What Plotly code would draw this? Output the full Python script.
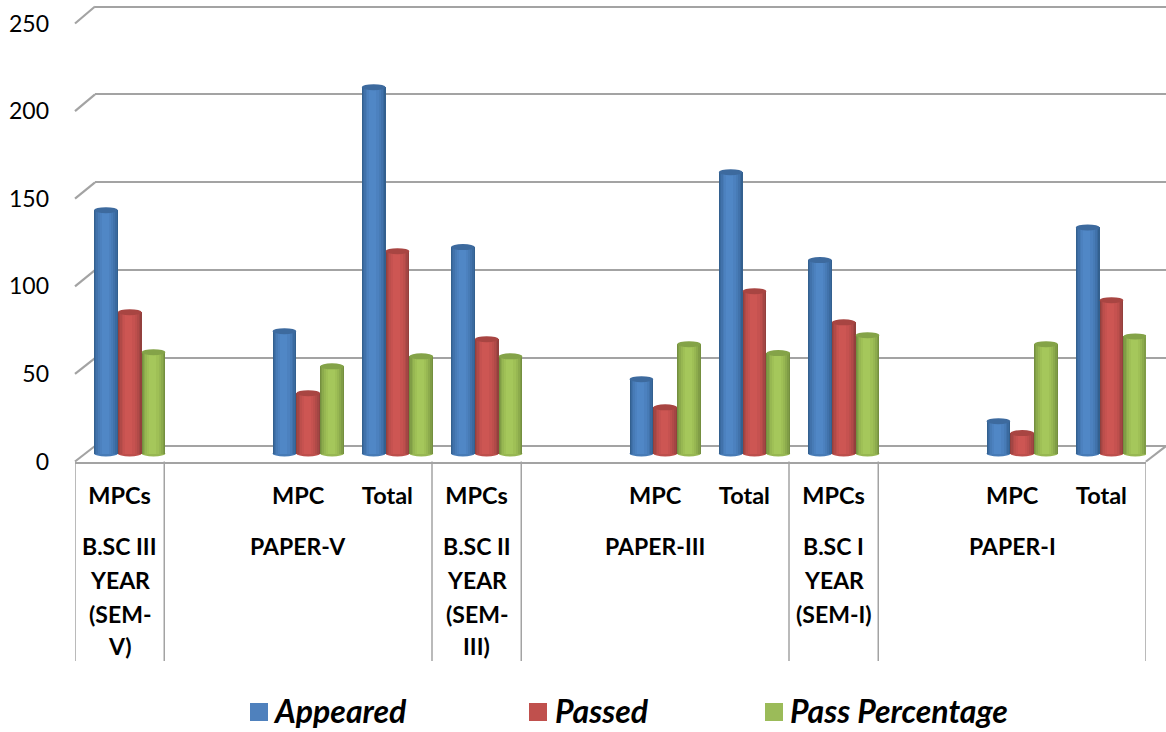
import plotly.graph_objects as go

categories = ["MPCs", "", "MPC", "Total", "MPCs", "", "MPC", "Total", "MPCs", "", "MPC", "Total"]
appeared = [138.4, None, 69.6, 208.4, 117.4, None, 42.3, 160, 110, None, 18.4, 128.6]
passed = [80.4, None, 34.3, 115.1, 65, None, 26.3, 92.3, 74.6, None, 11.6, 87.2]
pass_percentage = [57.6, None, 49.6, 55.3, 55.3, None, 62.2, 57.1, 67.3, None, 62.2, 66.6]
group_labels = [
    (0, ["B.SC III", "YEAR", "(SEM-", "V)"]),
    (2, ["PAPER-V"]),
    (4, ["B.SC II", "YEAR", "(SEM-", "III)"]),
    (6, ["PAPER-III"]),
    (8, ["B.SC I", "YEAR", "(SEM-I)"]),
    (10, ["PAPER-I"]),
]
separators = [-0.5, 0.5, 3.5, 4.5, 7.5, 8.5, 11.5]
y_ticks = [0, 50, 100, 150, 200, 250]

W, H = 1166, 732
FONT = "Lato"
GRID = "#a3a3a3"
fx = lambda p: p / W
fy = lambda p: 1 - p / H

series = [
    ("Appeared", appeared, "#4f81bd", "#3d6a9e",
     ["#33608f", "#3a6a9f", "#4172ab", "#477bb6", "#4c81bf", "#5087c6"], 250, 271),
    ("Passed", passed, "#c0504d", "#a84542",
     ["#93403d", "#a34644", "#b14a48", "#bd4f4c", "#c65250", "#cd5653"], 529, 553),
    ("Pass Percentage", pass_percentage, "#9bbb59", "#84a348",
     ["#748f3f", "#809d46", "#8cab4c", "#97b752", "#9fc056", "#a5c75b"], 765, 788),
]
BAR_W = 0.2667
FIRST_LEFT = -0.287
FRACS = [1.0, 0.9, 0.78, 0.64, 0.48, 0.3]
PX_PER_UNIT = 1.758

fig = go.Figure()
shapes = []
annotations = []
xs = list(range(len(categories)))

# invisible carriers so the back-wall grid and the front value axis are drawn
fig.add_trace(go.Scatter(x=[0], y=[0], xaxis="x", yaxis="y", mode="markers",
                         marker=dict(opacity=0), showlegend=False, hoverinfo="skip"))
fig.add_trace(go.Scatter(x=[0], y=[0], xaxis="x2", yaxis="y3", mode="markers",
                         marker=dict(opacity=0), showlegend=False, hoverinfo="skip"))

for k, (name, vals, base, cap, shades, swatch_x, text_x) in enumerate(series):
    left = FIRST_LEFT + k * BAR_W
    for frac, col in zip(FRACS, shades):
        fig.add_trace(go.Bar(
            x=xs, y=vals, xaxis="x2", yaxis="y2", name=name,
            width=BAR_W * frac,
            offset=left + BAR_W * 0.45 * (1 - frac),
            marker=dict(color=col, line=dict(width=0)),
            showlegend=False, hoverinfo="skip" if frac != 1.0 else None,
        ))
    ry = 3 / PX_PER_UNIT
    for x, v in zip(xs, vals):
        if v is None:
            continue
        # rounded bottom and darker cap of the cylinder
        shapes.append(dict(type="circle", xref="x2", yref="y2", layer="below",
                           x0=x + left, x1=x + left + BAR_W, y0=-ry, y1=ry,
                           fillcolor=shades[3], line=dict(width=0)))
        shapes.append(dict(type="circle", xref="x2", yref="y2", layer="above",
                           x0=x + left, x1=x + left + BAR_W, y0=v - ry, y1=v + ry,
                           fillcolor=cap, line=dict(width=0)))
    # legend row: native swatches are capped below the reference's 18 px squares
    shapes.append(dict(type="rect", xref="paper", yref="paper",
                       x0=fx(swatch_x), x1=fx(swatch_x + 18), y0=fy(721), y1=fy(703),
                       fillcolor=base, line=dict(width=0)))
    annotations.append(dict(x=fx(text_x), y=fy(710), xref="paper", yref="paper", text=name,
                            showarrow=False, xanchor="left", yanchor="middle",
                            font=dict(family=FONT, size=32, color="#000000",
                                      weight="bold", style="italic")))

# side stubs of the 3-D walls
for t in y_ticks:
    back = 446 - t * 1.758
    front = 461.5 - t * 1.752
    shapes.append(dict(type="line", xref="paper", yref="paper", layer="below",
                       x0=fx(75), x1=fx(95), y0=fy(front), y1=fy(back),
                       line=dict(color=GRID, width=2.2)))
shapes.append(dict(type="line", xref="paper", yref="paper", layer="below",
                   x0=fx(1146), x1=fx(1166), y0=fy(461.5), y1=fy(446),
                   line=dict(color=GRID, width=2.2)))
# group separators below the axis
for s in separators:
    shapes.append(dict(type="line", xref="x2", yref="paper", layer="below",
                       x0=s, x1=s, y0=fy(461.5), y1=fy(661),
                       line=dict(color=GRID, width=1.5)))

LINE_Y = [546, 580, 614, 646]
for x, lines in group_labels:
    for ln, py in zip(lines, LINE_Y):
        annotations.append(dict(x=x, y=fy(py), xref="x2", yref="paper", text=f"<b>{ln}</b>",
                                showarrow=False, xanchor="center", yanchor="middle",
                                font=dict(family=FONT, size=23, color="#000000")))

fig.update_layout(
    width=W, height=H, margin=dict(l=0, r=0, t=0, b=0, autoexpand=False),
    paper_bgcolor="white", plot_bgcolor="rgba(0,0,0,0)",
    barmode="overlay", bargap=0, showlegend=False,
    font=dict(family=FONT, color="#000000"),
    xaxis=dict(domain=[fx(95), 1], range=[0, 1], visible=False, fixedrange=True, automargin=False),
    yaxis=dict(domain=[fy(461.5), 1], anchor="x",
               range=[(446 - 461.5) / 1.758, 446 / 1.758],
               tickvals=y_ticks, showticklabels=False, ticks="", showgrid=True, automargin=False,
               gridcolor=GRID, gridwidth=2.4, zeroline=False, showline=False, fixedrange=True),
    xaxis2=dict(domain=[fx(75), fx(1146)], range=[-0.5, 11.5], anchor="y2", automargin=False,
                tickmode="array", tickvals=xs, ticktext=[f"<b>{c}</b>" for c in categories],
                tickfont=dict(family=FONT, size=23.5, color="#000000"), ticks="", ticklabelstandoff=12,
                showgrid=False, zeroline=False, showline=True, linecolor=GRID, linewidth=2.4,
                fixedrange=True),
    yaxis2=dict(domain=[fy(461.5), 1], anchor="x2", automargin=False,
                range=[(453.5 - 461.5) / PX_PER_UNIT, 453.5 / PX_PER_UNIT],
                visible=False, fixedrange=True),
    yaxis3=dict(overlaying="y2", anchor="x2", side="left", automargin=False,
                range=[0, 461.5 / 1.752], tickvals=y_ticks,
                tickfont=dict(family=FONT, size=23, color="#000000"), ticks="", ticklabelstandoff=25,
                showgrid=False, zeroline=False, showline=False, fixedrange=True),
    shapes=shapes, annotations=annotations,
)

fig.write_html("out.html", config={"displayModeBar": False},
               post_script="document.body.style.margin='0';")
